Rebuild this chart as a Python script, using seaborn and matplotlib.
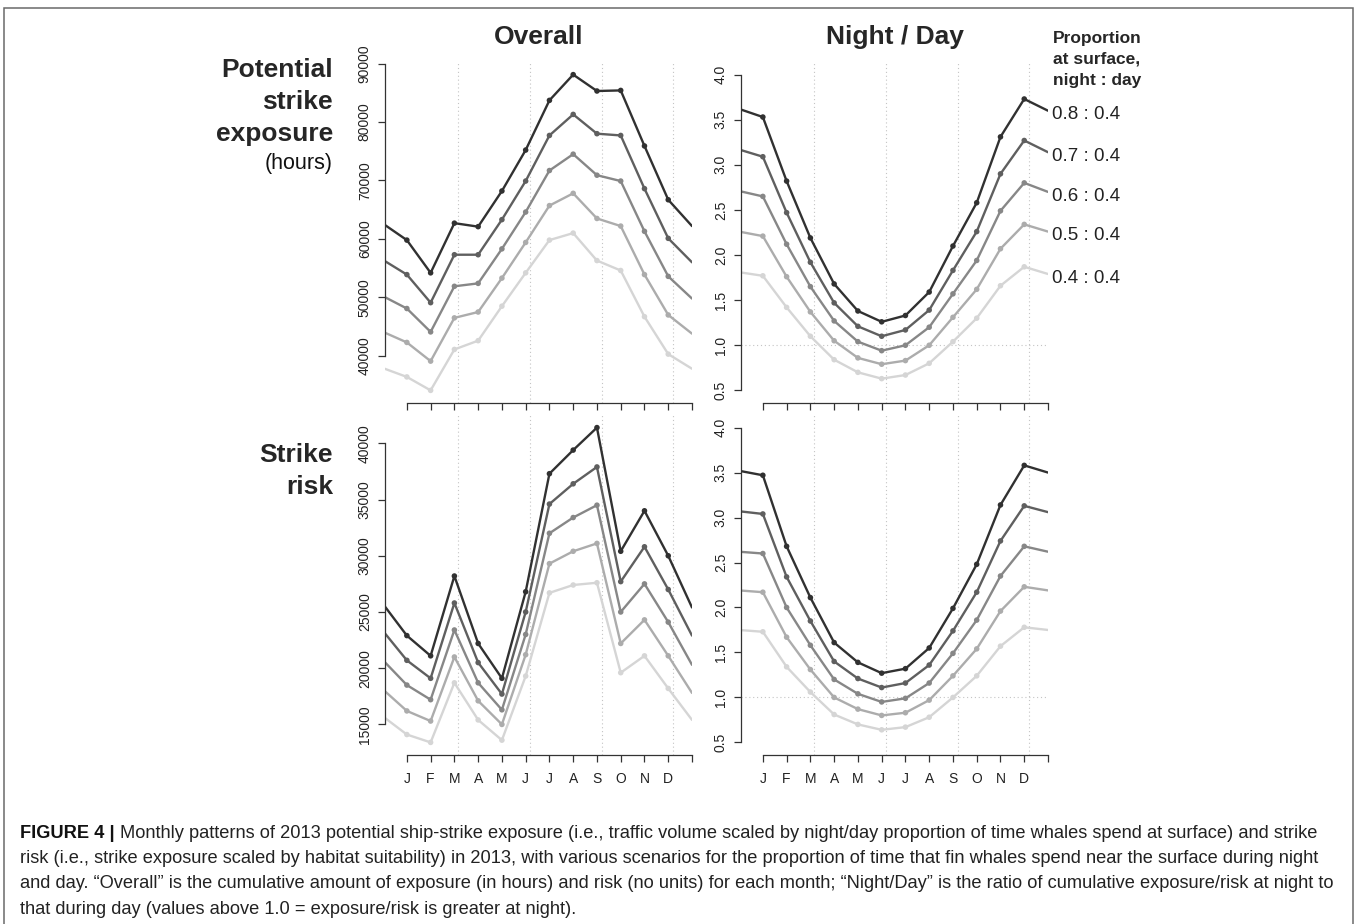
import numpy as np
import pandas as pd
import matplotlib
matplotlib.use("Agg")
import matplotlib.pyplot as plt
import seaborn as sns
from matplotlib.font_manager import FontProperties
from matplotlib.patches import Rectangle

# ---------------- data ----------------
months = ["J", "F", "M", "A", "M", "J", "J", "A", "S", "O", "N", "D"]
scenarios = ["0.8 : 0.4", "0.7 : 0.4", "0.6 : 0.4", "0.5 : 0.4", "0.4 : 0.4"]
grays = ["#313131", "#5f5f5f", "#878787", "#acacac", "#d5d5d5"]

# Potential strike exposure, overall (hours), Jan..Dec per scenario
exposure_total = [
    [59800, 54200, 62700, 62100, 68200, 75200, 83700, 88100, 85300, 85400, 75900, 66700],
    [53900, 49100, 57300, 57300, 63300, 69900, 77700, 81300, 78000, 77700, 68600, 60100],
    [48100, 44100, 51900, 52400, 58300, 64600, 71700, 74500, 70900, 69900, 61300, 53600],
    [42300, 39100, 46500, 47500, 53300, 59400, 65700, 67800, 63500, 62200, 53900, 47000],
    [36400, 34100, 41100, 42600, 48500, 54200, 59800, 61000, 56300, 54600, 46700, 40300],
]
exposure_total_edges = [(62600, 62200), (56400, 56000), (50200, 49800), (44100, 43800), (37900, 37800)]

# Potential strike exposure, night/day ratio
exposure_ratio = [
    [3.53, 2.82, 2.19, 1.68, 1.38, 1.26, 1.33, 1.59, 2.10, 2.58, 3.31, 3.73],
    [3.09, 2.47, 1.92, 1.47, 1.21, 1.10, 1.17, 1.39, 1.83, 2.26, 2.90, 3.27],
    [2.65, 2.12, 1.65, 1.27, 1.04, 0.94, 1.00, 1.20, 1.57, 1.94, 2.49, 2.80],
    [2.21, 1.76, 1.37, 1.05, 0.86, 0.79, 0.83, 1.00, 1.31, 1.62, 2.07, 2.34],
    [1.77, 1.42, 1.10, 0.84, 0.70, 0.63, 0.67, 0.80, 1.04, 1.30, 1.66, 1.87],
]
exposure_ratio_edges = [(3.62, 3.60), (3.17, 3.14), (2.71, 2.70), (2.26, 2.26), (1.81, 1.79)]

# Strike risk, overall
risk_total = [
    [22900, 21100, 28200, 22200, 19100, 26800, 37300, 39400, 41400, 30400, 34000, 30000],
    [20700, 19100, 25800, 20500, 17700, 25000, 34600, 36400, 37900, 27700, 30800, 27000],
    [18500, 17200, 23400, 18700, 16300, 23000, 32000, 33400, 34500, 25000, 27500, 24100],
    [16200, 15300, 21000, 17100, 15000, 21200, 29300, 30400, 31100, 22200, 24300, 21100],
    [14100, 13400, 18700, 15400, 13600, 19300, 26700, 27400, 27600, 19600, 21100, 18200],
]
risk_total_edges = [(25700, 25400), (23300, 22900), (20700, 20300), (18100, 17800), (15700, 15400)]

# Strike risk, night/day ratio
risk_ratio = [
    [3.47, 2.68, 2.11, 1.61, 1.39, 1.27, 1.32, 1.55, 1.99, 2.48, 3.14, 3.58],
    [3.04, 2.34, 1.85, 1.40, 1.21, 1.11, 1.16, 1.36, 1.74, 2.17, 2.74, 3.13],
    [2.60, 2.00, 1.58, 1.20, 1.04, 0.95, 0.99, 1.16, 1.49, 1.86, 2.35, 2.68],
    [2.17, 1.67, 1.31, 1.00, 0.87, 0.80, 0.83, 0.97, 1.24, 1.54, 1.96, 2.23],
    [1.73, 1.34, 1.06, 0.81, 0.70, 0.64, 0.67, 0.78, 1.00, 1.24, 1.57, 1.78],
]
risk_ratio_edges = [(3.52, 3.50), (3.07, 3.06), (2.62, 2.62), (2.19, 2.19), (1.75, 1.75)]

# equinox / solstice guide lines (month units, months centred on mid-month)
season_lines = [3.16, 6.2, 9.23, 12.2]

yticks_exposure = [40000, 50000, 60000, 70000, 80000, 90000]
yticks_risk = [15000, 20000, 25000, 30000, 35000, 40000]
yticks_ratio = [0.5, 1.0, 1.5, 2.0, 2.5, 3.0, 3.5, 4.0]

caption_head = "FIGURE 4 |"
caption_lines = [
    "Monthly patterns of 2013 potential ship-strike exposure (i.e., traffic volume scaled by night/day proportion of time whales spend at surface) and strike",
    "risk (i.e., strike exposure scaled by habitat suitability) in 2013, with various scenarios for the proportion of time that fin whales spend near the surface during night",
    "and day. \u201cOverall\u201d is the cumulative amount of exposure (in hours) and risk (no units) for each month; \u201cNight/Day\u201d is the ratio of cumulative exposure/risk at night to",
    "that during day (values above 1.0 = exposure/risk is greater at night).",
]

# ---------------- style ----------------
sns.set_style("white")
plt.rcParams["font.family"] = ["Liberation Sans", "DejaVu Sans"]
plt.rcParams["axes.linewidth"] = 0.9

W, H, DPI = 1357, 924, 100
fig = plt.figure(figsize=(W / DPI, H / DPI), dpi=DPI)
fig.patch.set_facecolor("white")


def px_axes(left, top, right, bottom):
    return fig.add_axes([left / W, 1 - bottom / H, (right - left) / W, (bottom - top) / H])


ax_tl = px_axes(385, 62, 692, 403)
ax_tr = px_axes(741, 62, 1048, 403)
ax_bl = px_axes(385, 415, 692, 755)
ax_br = px_axes(741, 415, 1048, 755)


def long_frame(values, edges):
    rows = []
    for sc, vals, (el, er) in zip(scenarios, values, edges):
        rows.append({"x": 0, "value": el, "scenario": sc, "month": False})
        for i, v in enumerate(vals):
            rows.append({"x": i + 1, "value": v, "scenario": sc, "month": True})
        rows.append({"x": 13, "value": er, "scenario": sc, "month": False})
    return pd.DataFrame(rows)


palette = dict(zip(scenarios, grays))


def draw_panel(ax, values, edges, yticks, ratio, bottom_labels):
    df = long_frame(values, edges)
    for xv in season_lines:
        ax.axvline(xv, color="#c4c4c4", lw=0.8, ls=(0, (1, 2.5)), zorder=0)
    if ratio:
        ax.axhline(1.0, color="#c4c4c4", lw=0.8, ls=(0, (1, 2.5)), zorder=0)
    sns.lineplot(data=df, x="x", y="value", hue="scenario", hue_order=scenarios,
                 palette=palette, estimator=None, sort=True, lw=1.7,
                 legend=False, ax=ax, zorder=2)
    sns.scatterplot(data=df[df["month"]], x="x", y="value", hue="scenario",
                    hue_order=scenarios, palette=palette, s=16, linewidth=0,
                    legend=False, ax=ax, zorder=3)
    ax.set_xlim(0.08, 13)
    if ratio:
        lo, hi = 0.5, 4.0
    else:
        lo, hi = df["value"].min(), df["value"].max()
    pad = (hi - lo) * 0.04
    ax.set_ylim(lo - pad, hi + pad)
    ax.set_xlabel("")
    ax.set_ylabel("")
    ax.set_xticks(range(1, 14))
    ax.set_xticklabels(months + [""] if bottom_labels else [""] * 13)
    ax.set_yticks(yticks)
    if ratio:
        ax.set_yticklabels([f"{t:.1f}" for t in yticks])
    else:
        ax.set_yticklabels([str(t) for t in yticks])
    for s in ["top", "right"]:
        ax.spines[s].set_visible(False)
    for s in ["left", "bottom"]:
        ax.spines[s].set_color("#333333")
        ax.spines[s].set_linewidth(0.9)
    ax.spines["bottom"].set_bounds(1, 13)
    ax.spines["left"].set_bounds(yticks[0], yticks[-1])
    ax.tick_params(axis="both", direction="out", length=5, width=0.9,
                   color="#333333", labelcolor="#222222", labelsize=10)
    ax.tick_params(axis="x", pad=7.5, bottom=True, labelbottom=bottom_labels)
    ax.tick_params(axis="y", pad=4.5, left=True, labelrotation=90)
    for lab in ax.get_yticklabels():
        lab.set_va("center")
    ax.set_facecolor("none")
    return df


draw_panel(ax_tl, exposure_total, exposure_total_edges, yticks_exposure, False, False)
draw_panel(ax_tr, exposure_ratio, exposure_ratio_edges, yticks_ratio, True, False)
draw_panel(ax_bl, risk_total, risk_total_edges, yticks_risk, False, True)
draw_panel(ax_br, risk_ratio, risk_ratio_edges, yticks_ratio, True, True)

# scenario labels at right end of the top-right panel
for sc, (el, er) in zip(scenarios, exposure_ratio_edges):
    ax_tr.annotate(sc, xy=(13, er), xycoords="data", xytext=(3, -3),
                   textcoords="offset points", ha="left", va="center",
                   fontsize=13.5, color="#222222", annotation_clip=False)


def ftext(xpx, ypx, s, **kw):
    return fig.text(xpx / W, 1 - ypx / H, s, **kw)


# column titles
ftext(538.5, 37, "Overall", ha="center", va="center", fontsize=19, fontweight="bold")
ftext(894.5, 37, "Night / Day", ha="center", va="center", fontsize=19, fontweight="bold")

# row labels
for txt, y in [("Potential", 70), ("strike", 102), ("exposure", 134)]:
    ftext(333, y, txt, ha="right", va="center", fontsize=19, fontweight="bold")
ftext(333, 164, "(hours)", ha="right", va="center", fontsize=15.5, color="#111111")
for txt, y in [("Strike", 455), ("risk", 487)]:
    ftext(333, y, txt, ha="right", va="center", fontsize=19, fontweight="bold")

# legend title
for txt, y in [("Proportion", 38), ("at surface,", 59.5), ("night : day", 81)]:
    ftext(1053, y, txt, ha="left", va="center", fontsize=12.5, fontweight="bold")

# figure frame
fig.patches.append(Rectangle((4 / W, -0.02), (1353 - 4) / W, 1.02 - 8 / H,
                             transform=fig.transFigure, fill=False,
                             edgecolor="#6a6a6a", lw=1.1))

# caption
fp_reg = FontProperties(family=["Liberation Sans", "DejaVu Sans"], weight="normal")
fp_bold = FontProperties(family=["Liberation Sans", "DejaVu Sans"], weight="bold")
size0 = 12.0
fp_reg.set_size(size0)
fp_bold.set_size(size0)
cap_x0 = 20
cap_y = [833, 858.5, 884, 909.5]
head = ftext(cap_x0, cap_y[0], caption_head, fontproperties=fp_bold, va="center", ha="left", color="#111111")
cap_texts = []
for i, line in enumerate(caption_lines):
    cap_texts.append(ftext(cap_x0, cap_y[i], line, fontproperties=fp_reg.copy(),
                           va="center", ha="left", color="#222222"))

gap = 5


def place_and_measure():
    fig.canvas.draw()
    r = fig.canvas.get_renderer()
    bb0 = head.get_window_extent(r)
    cap_texts[0].set_x((bb0.x1 + gap) / W)
    fig.canvas.draw()
    return max(t.get_window_extent(r).x1 for t in cap_texts)


right = place_and_measure()
scale = (1338.0 - cap_x0) / (right - cap_x0)
new_size = size0 * scale
for t in [head] + cap_texts:
    t.set_fontsize(new_size)
place_and_measure()

fig.savefig("out.png", dpi=DPI, facecolor="white")
